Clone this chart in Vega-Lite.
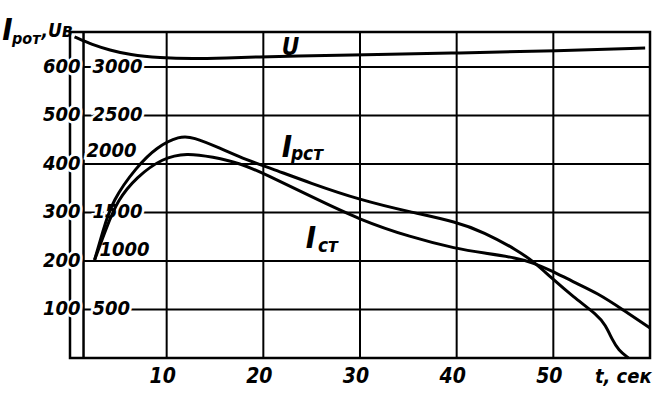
{
  "$schema": "https://vega.github.io/schema/vega-lite/v6.json",
  "width": 580,
  "height": 326,
  "autosize": {"type": "none"},
  "padding": {"left": 70, "top": 32, "right": 12, "bottom": 35},
  "background": "white",
  "view": {"stroke": "black", "strokeWidth": 2.5},
  "config": {"font": "DejaVu Sans Condensed"},
  "datasets": {
    "curves": [
      {"series": "U", "t": 0.47, "v": 3310},
      {"series": "U", "t": 2.33, "v": 3227},
      {"series": "U", "t": 4.09, "v": 3175},
      {"series": "U", "t": 6.16, "v": 3124},
      {"series": "U", "t": 9.27, "v": 3093},
      {"series": "U", "t": 12.69, "v": 3083},
      {"series": "U", "t": 16.22, "v": 3093},
      {"series": "U", "t": 19.64, "v": 3103},
      {"series": "U", "t": 23.06, "v": 3114},
      {"series": "U", "t": 30.0, "v": 3124},
      {"series": "U", "t": 40.36, "v": 3145},
      {"series": "U", "t": 50.41, "v": 3165},
      {"series": "U", "t": 59.5, "v": 3196},
      {"series": "Iрст", "t": 2.54, "v": 1010},
      {"series": "Iрст", "t": 3.37, "v": 1299},
      {"series": "Iрст", "t": 4.4, "v": 1629},
      {"series": "Iрст", "t": 6.89, "v": 1969},
      {"series": "Iрст", "t": 8.96, "v": 2175},
      {"series": "Iрст", "t": 11.35, "v": 2289},
      {"series": "Iрст", "t": 12.69, "v": 2279},
      {"series": "Iрст", "t": 15.49, "v": 2165},
      {"series": "Iрст", "t": 18.29, "v": 2041},
      {"series": "Iрст", "t": 20.67, "v": 1959},
      {"series": "Iрст", "t": 24.82, "v": 1804},
      {"series": "Iрст", "t": 30.0, "v": 1629},
      {"series": "Iрст", "t": 35.18, "v": 1505},
      {"series": "Iрст", "t": 40.05, "v": 1402},
      {"series": "Iрст", "t": 42.75, "v": 1299},
      {"series": "Iрст", "t": 46.27, "v": 1113},
      {"series": "Iрст", "t": 48.13, "v": 979},
      {"series": "Iрст", "t": 49.69, "v": 835},
      {"series": "Iрст", "t": 52.07, "v": 629},
      {"series": "Iрст", "t": 54.56, "v": 443},
      {"series": "Iрст", "t": 55.39, "v": 340},
      {"series": "Iрст", "t": 56.11, "v": 186},
      {"series": "Iрст", "t": 56.73, "v": 82},
      {"series": "Iрст", "t": 57.77, "v": 0},
      {"series": "Iст", "t": 2.54, "v": 1010},
      {"series": "Iст", "t": 3.68, "v": 1320},
      {"series": "Iст", "t": 4.92, "v": 1629},
      {"series": "Iст", "t": 6.89, "v": 1866},
      {"series": "Iст", "t": 9.59, "v": 2062},
      {"series": "Iст", "t": 12.07, "v": 2114},
      {"series": "Iст", "t": 14.77, "v": 2072},
      {"series": "Iст", "t": 17.56, "v": 2010},
      {"series": "Iст", "t": 20.36, "v": 1887},
      {"series": "Iст", "t": 24.82, "v": 1670},
      {"series": "Iст", "t": 30.0, "v": 1423},
      {"series": "Iст", "t": 35.18, "v": 1247},
      {"series": "Iст", "t": 40.05, "v": 1124},
      {"series": "Iст", "t": 42.75, "v": 1083},
      {"series": "Iст", "t": 46.27, "v": 1031},
      {"series": "Iст", "t": 47.93, "v": 979},
      {"series": "Iст", "t": 49.69, "v": 907},
      {"series": "Iст", "t": 52.07, "v": 784},
      {"series": "Iст", "t": 54.56, "v": 670},
      {"series": "Iст", "t": 57.25, "v": 495},
      {"series": "Iст", "t": 60.0, "v": 309}
    ],
    "vgrid": [{"t": 10}, {"t": 20}, {"t": 30}, {"t": 40}, {"t": 50}],
    "hgrid": [
      {"U": 3000, "I": 600},
      {"U": 2500, "I": 500},
      {"U": 2000, "I": 400},
      {"U": 1500, "I": 300},
      {"U": 1000, "I": 200},
      {"U": 500, "I": 100}
    ]
  },
  "layer": [
    {
      "data": {"name": "vgrid"},
      "mark": {"type": "rule", "color": "black", "strokeWidth": 2},
      "encoding": {
        "x": {"field": "t", "type": "quantitative", "scale": {"domain": [0, 60], "nice": false, "zero": false}, "axis": null},
        "y": {"datum": 0, "type": "quantitative", "scale": {"domain": [0, 3360], "nice": false, "zero": false}, "axis": null},
        "y2": {"datum": 3360}
      }
    },
    {
      "data": {"name": "hgrid"},
      "mark": {"type": "rule", "color": "black", "strokeWidth": 2},
      "encoding": {
        "x": {"datum": 1.45, "type": "quantitative", "axis": null},
        "x2": {"datum": 60},
        "y": {"field": "U", "type": "quantitative", "axis": null}
      }
    },
    {
      "data": {"values": [{}]},
      "mark": {"type": "rule", "color": "black", "strokeWidth": 2.5},
      "encoding": {
        "x": {"datum": 1.4, "type": "quantitative", "axis": null},
        "y": {"datum": 0, "type": "quantitative", "axis": null},
        "y2": {"datum": 3360}
      }
    },
    {
      "data": {"name": "hgrid"},
      "mark": {"type": "text", "align": "right", "baseline": "middle", "fontSize": 20, "fontStyle": "italic", "fontWeight": "bold", "color": "white", "stroke": "white", "strokeWidth": 5},
      "encoding": {
        "x": {"datum": 1.09, "type": "quantitative", "axis": null},
        "y": {"field": "U", "type": "quantitative", "axis": null},
        "text": {"field": "I", "type": "nominal"}
      }
    },
    {
      "data": {"name": "hgrid"},
      "transform": [{"filter": "datum.U != 1000 && datum.U != 2000"}],
      "mark": {"type": "text", "align": "left", "baseline": "middle", "fontSize": 20, "fontStyle": "italic", "fontWeight": "bold", "color": "white", "stroke": "white", "strokeWidth": 5},
      "encoding": {
        "x": {"datum": 2.33, "type": "quantitative", "axis": null},
        "y": {"field": "U", "type": "quantitative", "axis": null},
        "text": {"field": "U", "type": "nominal"}
      }
    },
    {
      "data": {"name": "hgrid"},
      "transform": [{"filter": "datum.U == 2000"}],
      "mark": {"type": "text", "align": "left", "baseline": "middle", "dy": -13, "fontSize": 20, "fontStyle": "italic", "fontWeight": "bold", "color": "white", "stroke": "white", "strokeWidth": 5},
      "encoding": {
        "x": {"datum": 1.7, "type": "quantitative", "axis": null},
        "y": {"field": "U", "type": "quantitative", "axis": null},
        "text": {"field": "U", "type": "nominal"}
      }
    },
    {
      "data": {"name": "hgrid"},
      "transform": [{"filter": "datum.U == 1000"}],
      "mark": {"type": "text", "align": "left", "baseline": "middle", "dy": -11, "fontSize": 20, "fontStyle": "italic", "fontWeight": "bold", "color": "white", "stroke": "white", "strokeWidth": 5},
      "encoding": {
        "x": {"datum": 3.05, "type": "quantitative", "axis": null},
        "y": {"field": "U", "type": "quantitative", "axis": null},
        "text": {"field": "U", "type": "nominal"}
      }
    },
    {
      "data": {"name": "curves"},
      "mark": {"type": "line", "color": "black", "strokeWidth": 3, "interpolate": "basis"},
      "encoding": {
        "x": {"field": "t", "type": "quantitative", "axis": null},
        "y": {"field": "v", "type": "quantitative", "axis": null},
        "detail": {"field": "series", "type": "nominal"}
      }
    },
    {
      "data": {"name": "hgrid"},
      "mark": {"type": "text", "align": "right", "baseline": "middle", "fontSize": 20, "fontStyle": "italic", "fontWeight": "bold", "color": "black"},
      "encoding": {
        "x": {"datum": 1.09, "type": "quantitative", "axis": null},
        "y": {"field": "U", "type": "quantitative", "axis": null},
        "text": {"field": "I", "type": "nominal"}
      }
    },
    {
      "data": {"name": "hgrid"},
      "transform": [{"filter": "datum.U != 1000 && datum.U != 2000"}],
      "mark": {"type": "text", "align": "left", "baseline": "middle", "fontSize": 20, "fontStyle": "italic", "fontWeight": "bold", "color": "black"},
      "encoding": {
        "x": {"datum": 2.33, "type": "quantitative", "axis": null},
        "y": {"field": "U", "type": "quantitative", "axis": null},
        "text": {"field": "U", "type": "nominal"}
      }
    },
    {
      "data": {"name": "hgrid"},
      "transform": [{"filter": "datum.U == 2000"}],
      "mark": {"type": "text", "align": "left", "baseline": "middle", "dy": -13, "fontSize": 20, "fontStyle": "italic", "fontWeight": "bold", "color": "black"},
      "encoding": {
        "x": {"datum": 1.7, "type": "quantitative", "axis": null},
        "y": {"field": "U", "type": "quantitative", "axis": null},
        "text": {"field": "U", "type": "nominal"}
      }
    },
    {
      "data": {"name": "hgrid"},
      "transform": [{"filter": "datum.U == 1000"}],
      "mark": {"type": "text", "align": "left", "baseline": "middle", "dy": -11, "fontSize": 20, "fontStyle": "italic", "fontWeight": "bold", "color": "black"},
      "encoding": {
        "x": {"datum": 3.05, "type": "quantitative", "axis": null},
        "y": {"field": "U", "type": "quantitative", "axis": null},
        "text": {"field": "U", "type": "nominal"}
      }
    },
    {
      "data": {"name": "vgrid"},
      "mark": {"type": "text", "align": "center", "baseline": "top", "dx": -4, "fontSize": 21, "fontStyle": "italic", "fontWeight": "bold", "color": "black"},
      "encoding": {
        "x": {"field": "t", "type": "quantitative", "axis": null},
        "y": {"datum": -85, "type": "quantitative", "axis": null},
        "text": {"field": "t", "type": "nominal"}
      }
    },
    {
      "data": {"values": [
        {"label": "I", "t": -7.0, "v": 3278},
        {"label": "I", "t": 21.9, "v": 2072},
        {"label": "I", "t": 24.4, "v": 1134}
      ]},
      "mark": {"type": "text", "align": "left", "baseline": "alphabetic", "fontSize": 31, "fontStyle": "italic", "fontWeight": "bold", "color": "black"},
      "encoding": {
        "x": {"field": "t", "type": "quantitative", "axis": null},
        "y": {"field": "v", "type": "quantitative", "axis": null},
        "text": {"field": "label", "type": "nominal"}
      }
    },
    {
      "data": {"values": [
        {"label": "рот", "t": -6.0, "v": 3240, "fs": "s"}
      ]},
      "mark": {"type": "text", "align": "left", "baseline": "alphabetic", "fontSize": 16, "fontStyle": "italic", "fontWeight": "bold", "color": "black"},
      "encoding": {
        "x": {"field": "t", "type": "quantitative", "axis": null},
        "y": {"field": "v", "type": "quantitative", "axis": null},
        "text": {"field": "label", "type": "nominal"}
      }
    },
    {
      "data": {"values": [
        {"label": ",Uв", "t": -2.95, "v": 3310},
        {"label": "рст", "t": 22.85, "v": 2041},
        {"label": "ст", "t": 25.65, "v": 1093}
      ]},
      "mark": {"type": "text", "align": "left", "baseline": "alphabetic", "fontSize": 19, "fontStyle": "italic", "fontWeight": "bold", "color": "black"},
      "encoding": {
        "x": {"field": "t", "type": "quantitative", "axis": null},
        "y": {"field": "v", "type": "quantitative", "axis": null},
        "text": {"field": "label", "type": "nominal"}
      }
    },
    {
      "data": {"values": [
        {"label": "U", "t": 21.9, "v": 3123}
      ]},
      "mark": {"type": "text", "align": "left", "baseline": "alphabetic", "fontSize": 24, "fontStyle": "italic", "fontWeight": "bold", "color": "black"},
      "encoding": {
        "x": {"field": "t", "type": "quantitative", "axis": null},
        "y": {"field": "v", "type": "quantitative", "axis": null},
        "text": {"field": "label", "type": "nominal"}
      }
    },
    {
      "data": {"values": [
        {"label": "t, сек", "t": 54.3, "v": -258}
      ]},
      "mark": {"type": "text", "align": "left", "baseline": "alphabetic", "fontSize": 20, "fontStyle": "italic", "fontWeight": "bold", "color": "black"},
      "encoding": {
        "x": {"field": "t", "type": "quantitative", "axis": null},
        "y": {"field": "v", "type": "quantitative", "axis": null},
        "text": {"field": "label", "type": "nominal"}
      }
    }
  ]
}
